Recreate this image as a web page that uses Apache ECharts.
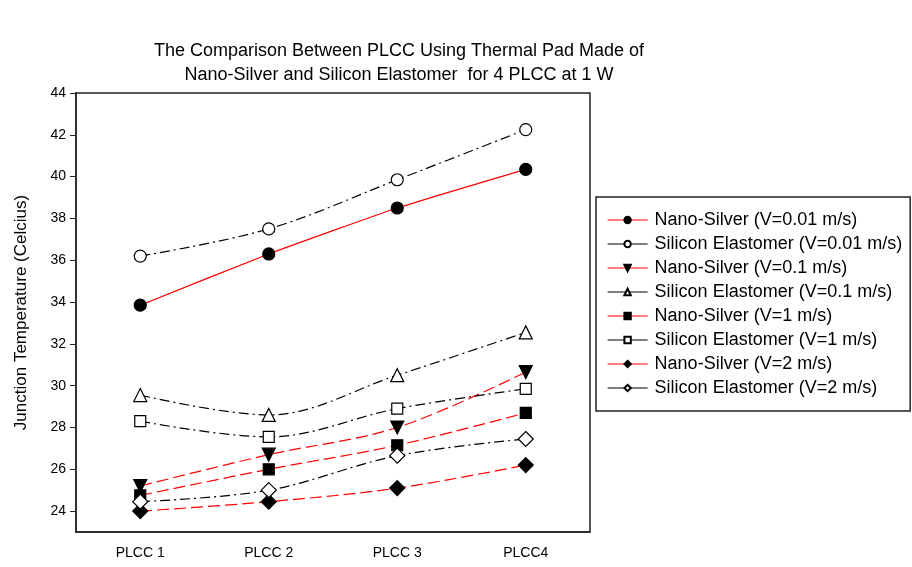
<!DOCTYPE html>
<html>
<head>
<meta charset="utf-8">
<script src="https://cdn.jsdelivr.net/npm/echarts@6/dist/echarts.min.js"></script>
<style>
  html, body { margin: 0; padding: 0; background: #fff; }
  #chart { width: 912px; height: 567px; }
</style>
</head>
<body>
<div id="chart"></div>
<script>
const categories = ['PLCC 1', 'PLCC 2', 'PLCC 3', 'PLCC4'];
const yTicks = [24, 26, 28, 30, 32, 34, 36, 38, 40, 42, 44];

const nanoV001 = [33.85, 36.3, 38.5, 40.35];
const siliconV001 = [36.2, 37.5, 39.85, 42.25];
const nanoV01 = [25.2, 26.7, 28.0, 30.65];
const siliconV01 = [29.55, 28.6, 30.5, 32.55];
const nanoV1 = [24.75, 26.0, 27.15, 28.7];
const siliconV1 = [28.3, 27.55, 28.9, 29.85];
const nanoV2 = [24.0, 24.45, 25.1, 26.2];
const siliconV2 = [24.45, 25.0, 26.65, 27.45];

const font = 'Liberation Sans, Arial, sans-serif';
const dashDot = [10, 4, 2, 4];
const redDash = [12, 5];

function line(name, data, symbol, filled, nano, extra) {
  return Object.assign({
    name: name,
    type: 'line',
    data: data,
    smooth: 0.35,
    symbol: symbol,
    symbolSize: 12,
    showAllSymbol: true,
    z: 3,
    lineStyle: {
      color: nano ? '#ff0000' : '#000',
      width: 1.2,
      type: nano ? redDash : dashDot
    },
    itemStyle: {
      color: filled ? '#000' : '#fff',
      borderColor: '#000',
      borderWidth: 1.2
    },
    emphasis: { disabled: true }
  }, extra || {});
}

const chart = echarts.init(document.getElementById('chart'));
chart.setOption({
  animation: false,
  backgroundColor: '#fff',
  title: {
    text: 'The Comparison Between PLCC Using Thermal Pad Made of\nNano-Silver and Silicon Elastomer  for 4 PLCC at 1 W',
    left: 394,
    top: 34,
    textAlign: 'center',
    textStyle: {
      fontFamily: font,
      fontSize: 18,
      fontWeight: 'normal',
      color: '#000',
      lineHeight: 24
    }
  },
  grid: {
    left: 76,
    right: 322,
    top: 93,
    bottom: 35,
    show: true,
    borderColor: '#222',
    borderWidth: 1.5
  },
  legend: {
    orient: 'vertical',
    left: 596,
    top: 197,
    padding: [14, 8, 14, 11],
    itemWidth: 40,
    itemHeight: 8,
    itemGap: 6,
    borderColor: '#222',
    borderWidth: 1.5,
    lineStyle: { type: 'solid', width: 1.2 },
    textStyle: { fontFamily: font, fontSize: 18, color: '#000', padding: [0, 0, 0, 2] },
    data: [
      'Nano-Silver (V=0.01 m/s)',
      'Silicon Elastomer (V=0.01 m/s)',
      'Nano-Silver (V=0.1 m/s)',
      'Silicon Elastomer (V=0.1 m/s)',
      'Nano-Silver (V=1 m/s)',
      'Silicon Elastomer (V=1 m/s)',
      'Nano-Silver (V=2 m/s)',
      'Silicon Elastomer (V=2 m/s)'
    ]
  },
  xAxis: {
    type: 'category',
    data: categories,
    boundaryGap: true,
    axisLine: { lineStyle: { color: '#222', width: 1.5 } },
    axisTick: { alignWithLabel: true, length: 6, lineStyle: { color: '#222' } },
    axisLabel: { fontFamily: font, fontSize: 14, color: '#000', margin: 14 },
    splitLine: { show: false }
  },
  yAxis: {
    type: 'value',
    min: 23,
    max: 44,
    name: 'Junction Temperature (Celcius)',
    nameLocation: 'middle',
    nameGap: 46,
    nameTextStyle: { fontFamily: font, fontSize: 17, color: '#000' },
    axisLine: { show: true, lineStyle: { color: '#222', width: 1.5 } },
    axisTick: { show: true, length: 6, customValues: yTicks, lineStyle: { color: '#222' } },
    axisLabel: { fontFamily: font, fontSize: 14, color: '#000', margin: 10, customValues: yTicks },
    splitLine: { show: false }
  },
  series: [
    line('Nano-Silver (V=0.01 m/s)', nanoV001, 'circle', true, true, {
      smooth: 0.15,
      lineStyle: { color: '#ff0000', width: 1.2, type: 'solid' }
    }),
    line('Silicon Elastomer (V=0.01 m/s)', siliconV001, 'circle', false, false),
    line('Nano-Silver (V=0.1 m/s)', nanoV01, 'triangle', true, true, { symbolRotate: 180, symbolSize: 13 }),
    line('Silicon Elastomer (V=0.1 m/s)', siliconV01, 'triangle', false, false, { symbolSize: 13 }),
    line('Nano-Silver (V=1 m/s)', nanoV1, 'rect', true, true, { symbolSize: 11 }),
    line('Silicon Elastomer (V=1 m/s)', siliconV1, 'rect', false, false, { symbolSize: 11 }),
    line('Nano-Silver (V=2 m/s)', nanoV2, 'diamond', true, true, { symbolSize: 15 }),
    line('Silicon Elastomer (V=2 m/s)', siliconV2, 'diamond', false, false, { symbolSize: 15 })
  ]
});
</script>
</body>
</html>
